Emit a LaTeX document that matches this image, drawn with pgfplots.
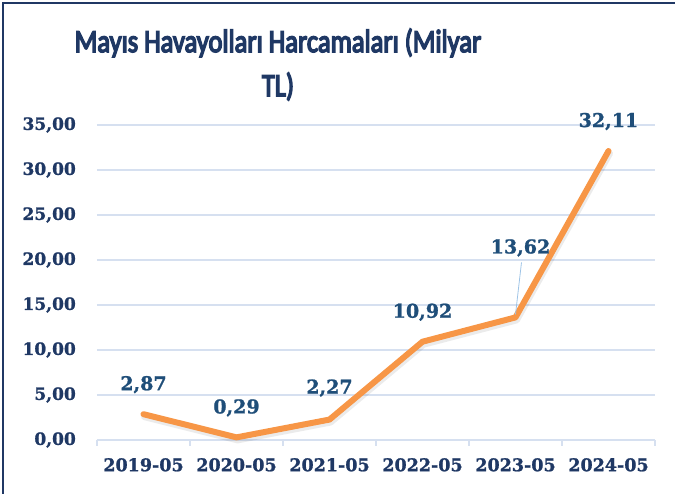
\documentclass[border=0pt]{standalone}
\usepackage{pgfplots}
\pgfplotsset{compat=1.18}
\usepackage{pgfplotstable}
\usepackage{fontspec}
\usepackage{graphicx}
\setmainfont{DejaVu Serif}[BoldFeatures={FakeBold=1.2}]
\newfontfamily\titlefont[FakeBold=5]{Carlito}
\definecolor{navy}{HTML}{1F3864}
\definecolor{lblue}{HTML}{1F4E79}
\definecolor{gridc}{HTML}{D6E0F0}
\definecolor{orng}{HTML}{F79646}
\definecolor{bordc}{HTML}{203864}
\definecolor{leader}{HTML}{9DC3E6}

\pgfplotstableread{
x y lx ly
0 2.87 0 24
1 0.29 0 24
2 2.27 0 26
3 10.92 0 24
4 13.62 5 64
5 32.11 0 24
}\datatable

\begin{document}
\begin{tikzpicture}
\path[use as bounding box] (-97pt,-54pt) rectangle (578pt,440pt);
\begin{axis}[
  at={(0pt,0pt)}, anchor=south west,
  scale only axis, width=558pt, height=315pt,
  xmin=-0.5, xmax=5.5, ymin=0, ymax=35,
  xtick={0,1,2,3,4,5},
  xticklabels={2019-05,2020-05,2021-05,2022-05,2023-05,2024-05},
  ytick={0,5,10,15,20,25,30,35},
  axis x line*=bottom, axis y line*=left,
  x axis line style={draw=gridc, line width=1.3pt, -},
  y axis line style={draw=none},
  major tick length=0pt,
  extra x ticks={-0.5,0.5,1.5,2.5,3.5,4.5,5.5},
  extra x tick labels={},
  extra x tick style={tick align=outside, major tick length=6pt,
     tick style={draw=gridc, line width=1.3pt}},
  ymajorgrids, grid style={draw=gridc, line width=1.3pt},
  yticklabel style={font=\fontsize{17}{20}\selectfont\bfseries, text=navy,
     anchor=east, inner sep=0pt, xshift=-21pt,
     /pgf/number format/.cd, fixed, fixed zerofill, precision=2, use comma, assume math mode=true},
  xticklabel style={font=\fontsize{17.5}{20}\selectfont\bfseries, text=navy,
     anchor=north, inner sep=0pt, yshift=-18pt},
  clip=false,
]
\addplot[draw=black, opacity=0.08, line width=7pt, line join=round, line cap=round,
  transform canvas={xshift=1pt, yshift=-2.5pt}, forget plot]
  table[x=x, y=y]{\datatable};
\addplot[draw=orng, line width=6pt, line join=round, line cap=round,
  point meta=explicit,
  visualization depends on={\thisrow{lx} \as \lx},
  visualization depends on={\thisrow{ly} \as \ly},
  nodes near coords={\pgfmathprintnumber[fixed,fixed zerofill,precision=2,use comma,assume math mode=true]{\pgfplotspointmeta}},
  every node near coord/.append style={font=\fontsize{19}{22}\selectfont\bfseries,
     text=lblue, anchor=base, inner sep=0pt, xshift=\lx pt, yshift=\ly pt},
  ] table[x=x, y=y, meta=y]{\datatable};
\draw[leader, line width=0.8pt] (axis cs:4,13.62) ++(0pt,3pt) -- ++(6pt,52pt);
\end{axis}
\node[anchor=base, text=navy, inner sep=0pt, font=\titlefont\fontsize{32}{38}\selectfont]
  at (181pt,388pt) {\scalebox{0.83}[1]{Mayıs Havayolları Harcamaları (Milyar}};
\node[anchor=base, text=navy, inner sep=0pt, font=\titlefont\fontsize{32}{38}\selectfont]
  at (181pt,344pt) {\scalebox{0.83}[1]{TL)}};
\draw[bordc, line width=2.5pt] (-94pt,-54pt) -- (-94pt,437pt) -- (578pt,437pt);
\end{tikzpicture}
\end{document}
